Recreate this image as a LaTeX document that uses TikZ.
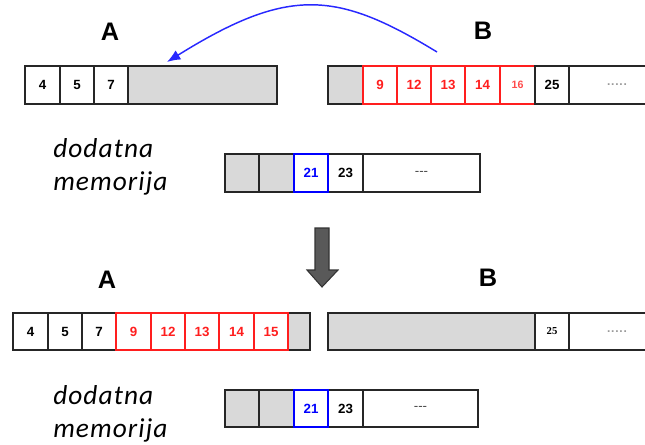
\documentclass[tikz,border=0pt]{standalone}
\usepackage{fontspec}
\setmainfont{Liberation Sans}
\newfontfamily\calib[LetterSpace=4]{Carlito}
\newfontfamily\tnr{Liberation Serif}
\usetikzlibrary{arrows.meta}
\definecolor{cellgray}{RGB}{217,217,217}
\definecolor{arrblue}{RGB}{40,40,255}
\definecolor{cellred}{RGB}{255,30,30}
\newcommand\cellnode[7]{%
  \node[cellbase,#6,minimum width={(#3-#2)*0.75pt},minimum height={(#5-#4)*0.75pt}] (#1) at ({(#2+#3)/2},{(#4+#5)/2}) {#7};}
\tikzset{
  cellbase/.style={draw=black!85, line width=1pt, inner sep=0pt, outer sep=0pt, fill=white,
    font=\bfseries\fontsize{10}{12}\selectfont},
  grc/.style={fill=cellgray},
  rdc/.style={draw=cellred, text=cellred},
  blc/.style={draw=blue, text=blue},
  lbl/.style={font=\bfseries\fontsize{19}{21}\selectfont, inner sep=0pt},
  memlbl/.style={font=\calib\itshape\fontsize{20.5}{25}\selectfont, align=left, inner sep=0pt, anchor=west},
}
\newcommand\celldots{{\fontsize{9}{10}\selectfont\bfseries\color{black!40}.\kern0.6pt.\kern0.6pt.\kern0.6pt.\kern0.6pt.}}
\newcommand\celldashes{{\fontsize{10}{11}\selectfont\mdseries\color{black!70}-{}-{}-}}
\begin{document}
\begin{tikzpicture}[x=0.75pt,y=-0.75pt]
\useasboundingbox (0,0) rectangle (645,445);
% top A
\node[lbl] (lA1) at (110,32) {A};
\cellnode{a1}{25}{60}{66}{104}{}{4}
\cellnode{a2}{60}{94}{66}{104}{}{5}
\cellnode{a3}{94}{128}{66}{104}{}{7}
\cellnode{a4}{128}{277}{66}{104}{grc}{}
% top B
\node[lbl] (lB1) at (483,31) {B};
\cellnode{b0}{328}{363}{66}{104}{grc}{}
\cellnode{b7}{569}{665}{66}{104}{}{\celldots}
\cellnode{b1}{363}{397}{66}{104}{rdc}{9}
\cellnode{b2}{397}{431}{66}{104}{rdc}{12}
\cellnode{b3}{431}{465}{66}{104}{rdc}{13}
\cellnode{b4}{465}{500}{66}{104}{rdc}{14}
\cellnode{b5}{500}{535}{66}{104}{rdc,font=\bfseries\fontsize{8}{10}\selectfont,text=cellred!80}{16}
\cellnode{b6}{535}{569}{66}{104}{}{25}
% blue arrow
\coordinate (s) at (437,52);
\coordinate (t) at (167,62);
\draw[arrblue, line width=1.1pt, -{Latex[length=10pt,width=8pt]}] (s) .. controls (337,-9) and (289,-14) .. (t);
% memory 1
\node[memlbl] (ml1) at (53,167) {dodatna\\memorija};
\cellnode{m1}{225}{259}{154}{192}{grc}{}
\cellnode{m2}{259}{294}{154}{192}{grc}{}
\cellnode{m4}{328}{363}{154}{192}{}{23}
\cellnode{m5}{363}{480}{154}{192}{}{\celldashes}
\cellnode{m3}{294}{328}{154}{192}{blc}{21}
% down arrow
\draw[fill=black!65, draw=black!80, line width=0.8pt, line join=miter]
  (315,228) -- (329,228) -- (329,270) -- (338,270) -- (322,287) -- (307,270) -- (315,270) -- cycle;
% bottom A
\node[lbl] (lA2) at (107,280) {A};
\cellnode{c1}{13}{48}{313}{350}{}{4}
\cellnode{c2}{48}{82}{313}{350}{}{5}
\cellnode{c3}{82}{116}{313}{350}{}{7}
\cellnode{c9}{288}{310}{313}{350}{grc}{}
\cellnode{c4}{116}{151}{313}{350}{rdc}{9}
\cellnode{c5}{151}{185}{313}{350}{rdc}{12}
\cellnode{c6}{185}{219}{313}{350}{rdc}{13}
\cellnode{c7}{219}{254}{313}{350}{rdc}{14}
\cellnode{c8}{254}{288}{313}{350}{rdc}{15}
% bottom B
\node[lbl] (lB2) at (488,278) {B};
\cellnode{d1}{328}{535}{313}{350}{grc}{}
\cellnode{d2}{535}{569}{313}{350}{font=\tnr\bfseries\fontsize{8}{10}\selectfont}{25}
\cellnode{d3}{569}{665}{313}{350}{}{\celldots}
% memory 2
\node[memlbl] (ml2) at (53,414) {dodatna\\memorija};
\cellnode{n1}{225}{259}{390}{427}{grc}{}
\cellnode{n2}{259}{294}{390}{427}{grc}{}
\cellnode{n4}{328}{363}{390}{427}{}{23}
\cellnode{n5}{363}{478}{390}{427}{}{\celldashes}
\cellnode{n3}{294}{328}{390}{427}{blc}{21}
\end{tikzpicture}
\end{document}
